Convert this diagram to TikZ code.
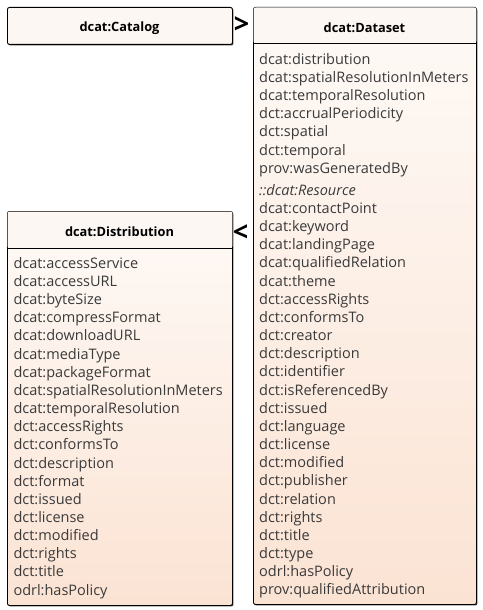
\documentclass[tikz,border=0pt]{standalone}
\usepackage{fontspec}
\setmainfont{Open Sans}
\usetikzlibrary{shadows}
\definecolor{txt}{HTML}{3A3A3A}
\definecolor{topc}{HTML}{FEFAF7}
\definecolor{botc}{HTML}{FBE3D3}
\definecolor{headc}{HTML}{FDF7F3}
\tikzset{
  classbox/.style={draw=black, line width=0.9pt, rounded corners=2pt, anchor=north west,
    top color=topc, bottom color=botc, inner sep=0pt,
    drop shadow={shadow xshift=1pt, shadow yshift=-1pt, fill=black!75, opacity=1}},
  headbox/.style={draw=black, line width=0.9pt, rounded corners=2pt, anchor=north west,
    fill=headc, inner sep=0pt,
    drop shadow={shadow xshift=1pt, shadow yshift=-1pt, fill=black!75, opacity=1}},
  title/.style={font=\fontsize{12.8}{14}\selectfont\bfseries, text=black, inner sep=0pt},
  item/.style={font=\fontsize{14.5}{16}\selectfont, text=txt, anchor=west, inner sep=0pt,
    text height=10.5pt, text depth=3pt},
  sep/.style={draw=black, line width=0.8pt},
  markertext/.style={font=\fontsize{27}{27}\selectfont\bfseries, text=black, inner sep=0pt}
}
\begin{document}
\begin{tikzpicture}[x=1pt,y=-1pt]
\useasboundingbox (0,0) rectangle (482,610);
% Catalog
\node[headbox, minimum width=225pt, minimum height=37pt] (catalog) at (7,7) {};
\node[title] (catalogT) at (119.5,28) {dcat:Catalog};
% Dataset
\node[classbox, minimum width=223pt, minimum height=597pt] (dataset) at (253,7) {};
\fill[headc, rounded corners=2pt] ([shift={(0.5pt,-0.5pt)}]dataset.north west) rectangle ([shift={(-0.5pt,-36pt)}]dataset.north east);
\draw[sep] ([yshift=-36pt]dataset.north west) -- ([yshift=-36pt]dataset.north east);
\node[title] (datasetT) at (364.5,28) {dcat:Dataset};
\foreach \t [count=\i] in {dcat:distribution, dcat:spatialResolutionInMeters, dcat:temporalResolution, dct:accrualPeriodicity, dct:spatial, dct:temporal, prov:wasGeneratedBy}
  \node[item] (dsa\i) at (259,{60.3+(\i-1)*18.2}) {\t};
\node[item, font=\fontsize{14.5}{16}\selectfont\itshape] (dsres) at (259,191.5) {::dcat:Resource};
\foreach \t [count=\i] in {dcat:contactPoint, dcat:keyword, dcat:landingPage, dcat:qualifiedRelation, dcat:theme, dct:accessRights, dct:conformsTo, dct:creator, dct:description, dct:identifier, dct:isReferencedBy, dct:issued, dct:language, dct:license, dct:modified, dct:publisher, dct:relation, dct:rights, dct:title, dct:type, odrl:hasPolicy, prov:qualifiedAttribution}
  \node[item] (dsb\i) at (259,{209.6+(\i-1)*18.17}) {\t};
% Distribution
\node[classbox, minimum width=225pt, minimum height=394pt] (distribution) at (7,211) {};
\fill[headc, rounded corners=2pt] ([shift={(0.5pt,-0.5pt)}]distribution.north west) rectangle ([shift={(-0.5pt,-37pt)}]distribution.north east);
\draw[sep] ([yshift=-37pt]distribution.north west) -- ([yshift=-37pt]distribution.north east);
\node[title] (distributionT) at (119.5,232) {dcat:Distribution};
\foreach \t [count=\i] in {dcat:accessService, dcat:accessURL, dcat:byteSize, dcat:compressFormat, dcat:downloadURL, dcat:mediaType, dcat:packageFormat, dcat:spatialResolutionInMeters, dcat:temporalResolution, dct:accessRights, dct:conformsTo, dct:description, dct:format, dct:issued, dct:license, dct:modified, dct:rights, dct:title, odrl:hasPolicy}
  \node[item] (di\i) at (13.3,{264.6+(\i-1)*18.15}) {\t};
% markers
\node[markertext] (gt) at (241.5,25) {>};
\node[markertext] (lt) at (240.5,233) {<};
\end{tikzpicture}
\end{document}
